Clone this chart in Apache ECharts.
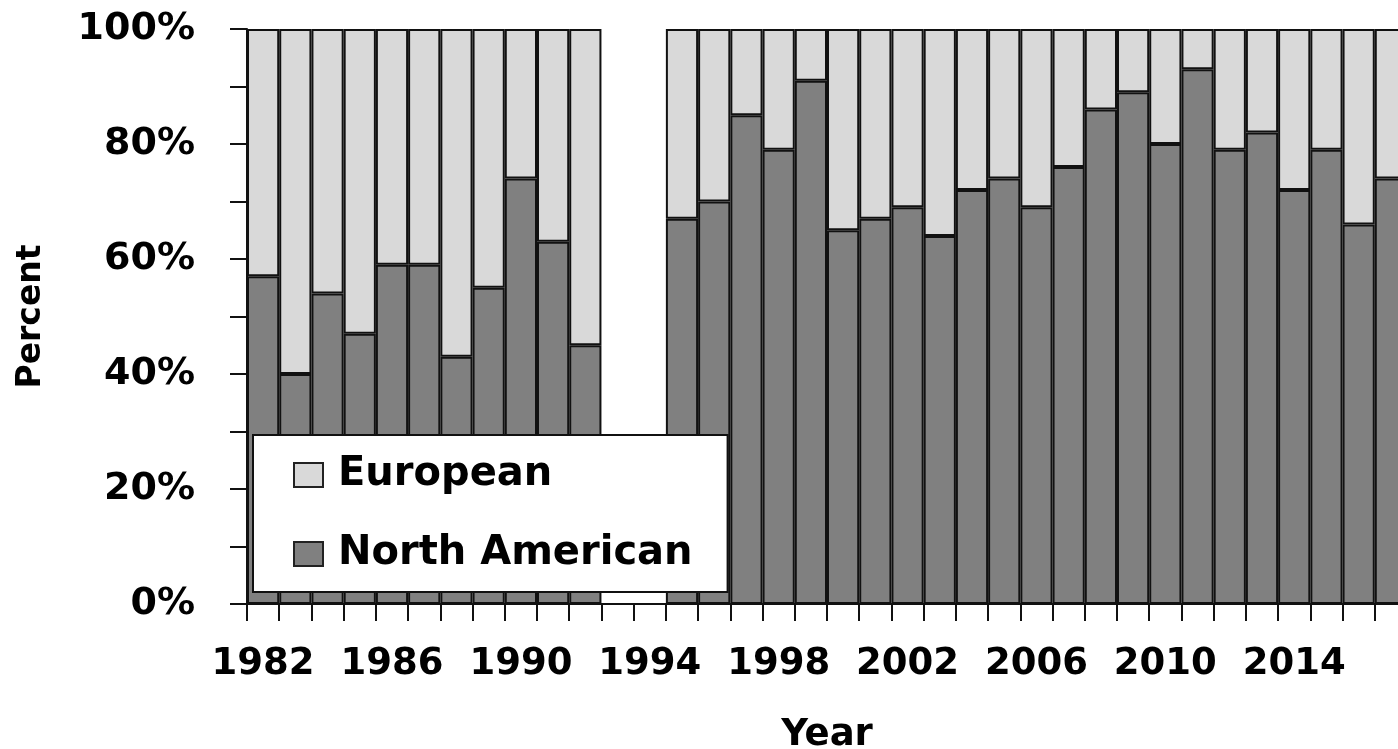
<!DOCTYPE html>
<html>
<head>
<meta charset="utf-8">
<script src="https://cdn.jsdelivr.net/npm/echarts@6/dist/echarts.min.js"></script>
<style>
html,body{margin:0;padding:0;background:#fff;}
#chart{width:1398px;height:749px;}
</style>
</head>
<body>
<div id="chart"></div>
<script>
const years = ['1982','1983','1984','1985','1986','1987','1988','1989','1990','1991','1992','1993','1994',
  '1995','1996','1997','1998','1999','2000','2001','2002','2003','2004','2005','2006','2007','2008','2009',
  '2010','2011','2012','2013','2014','2015','2016','2017'];
const northAmerican = [57,40,54,47,59,59,43,55,74,63,45,null,null,
  67,70,85,79,91,65,67,69,64,72,74,69,76,86,89,80,93,79,82,72,79,66,74];
const european = [43,60,46,53,41,41,57,45,26,37,55,null,null,
  33,30,15,21,9,35,33,31,36,28,26,31,24,14,11,20,7,21,18,28,21,34,26];
const yTicks = [0,10,20,30,40,50,60,70,80,90,100];
const yLabelTicks = [0,20,40,60,80,100];

const FONT = 'DejaVu Sans';
const chart = echarts.init(document.getElementById('chart'));
chart.setOption({
  animation: false,
  backgroundColor: '#fff',
  grid: {left: 247, top: 29, bottom: 145, width: 1160, containLabel: false, outerBoundsMode: 'none'},
  legend: {
    orient: 'vertical',
    left: 253, top: 435,
    data: ['European', 'North American'],
    icon: 'rect',
    itemWidth: 29, itemHeight: 24,
    itemGap: 39,
    padding: [20, 35, 18, 40],
    backgroundColor: '#fff',
    borderColor: '#111',
    borderWidth: 2,
    borderRadius: 0,
    itemStyle: {borderColor: '#222', borderWidth: 2},
    textStyle: {fontFamily: FONT, fontWeight: 'bold', fontSize: 40, color: '#000', lineHeight: 40, padding: [0, 0, 0, 10]}
  },
  xAxis: {
    type: 'category',
    data: years,
    boundaryGap: true,
    name: 'Year',
    nameLocation: 'middle',
    nameGap: 113,
    nameTextStyle: {fontFamily: FONT, fontWeight: 'bold', fontSize: 37, color: '#000'},
    axisLine: {show: true, lineStyle: {color: '#111', width: 2}},
    axisTick: {show: true, interval: 0, length: 17, inside: false, lineStyle: {color: '#111', width: 2}},
    axisLabel: {interval: 3, margin: 42, fontFamily: FONT, fontWeight: 'bold', fontSize: 37, color: '#000'},
    splitLine: {show: false}
  },
  yAxis: {
    type: 'value',
    min: yTicks[0], max: yTicks[yTicks.length - 1], interval: 10,
    name: 'Percent',
    nameLocation: 'middle',
    nameGap: 199,
    nameRotate: 90,
    nameTextStyle: {fontFamily: FONT, fontWeight: 'bold', fontSize: 33, color: '#000'},
    axisLine: {show: true, lineStyle: {color: '#111', width: 2}},
    axisTick: {show: true, length: 17, lineStyle: {color: '#111', width: 2}},
    axisLabel: {
      margin: 52, fontFamily: FONT, fontWeight: 'bold', fontSize: 38, color: '#000',
      formatter: v => yLabelTicks.indexOf(v) >= 0 ? v + '%' : ''
    },
    splitLine: {show: false}
  },
  series: [
    {
      name: 'North American', type: 'bar', stack: 'total', data: northAmerican,
      barCategoryGap: 0, barGap: 0,
      itemStyle: {color: '#808080', borderColor: '#111', borderWidth: 2}
    },
    {
      name: 'European', type: 'bar', stack: 'total', data: european,
      barCategoryGap: 0, barGap: 0,
      itemStyle: {color: '#d9d9d9', borderColor: '#111', borderWidth: 2}
    }
  ]
});
</script>
</body>
</html>
